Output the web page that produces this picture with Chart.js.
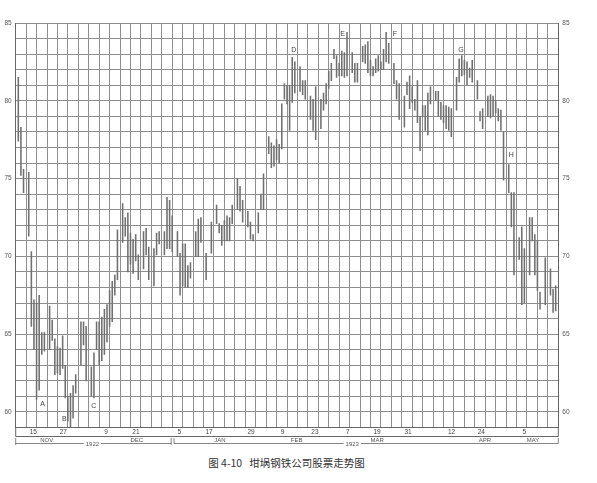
<!DOCTYPE html>
<html>
<head>
<meta charset="utf-8">
<script src="https://cdn.jsdelivr.net/npm/chart.js@4.4.1/dist/chart.umd.min.js"></script>
<style>
  html, body { margin:0; background:#fff; }
  #wrap { position:relative; width:597px; height:483px; }
  .caption { position:absolute; left:0; top:455px; width:573px; text-align:center;
             font:10.5px "Noto Sans CJK SC", sans-serif; color:#333; }
</style>
</head>
<body>
<div id="wrap">
  <canvas id="c" width="597" height="452"></canvas>
  <div class="caption">图 4-10&nbsp;&nbsp;&nbsp;坩埚钢铁公司股票走势图</div>
</div>
<script>
// trading-day slot (4 per grid column), daily high and low
const days  = [1,2,3,5,6,7,8,9,10,11,13,14,15,16,17,18,19,20,21,22,23,25,26,27,29,30,
  31,32,33,34,35,36,37,38,39,41,42,43,44,45,46,47,49,50,51,53,54,55,57,58,59,60,
  62,63,64,65,66,67,69,70,71,73,75,77,78,79,80,81,82,83,85,86,87,89,90,91,93,94,95,
  97,98,99,100,101,102,103,104,105,106,107,109,110,111,113,114,115,117,118,119,120,
  121,122,123,124,125,126,127,129,130,131,133,134,135,136,137,138,139,140,141,142,143,
  145,146,147,149,150,151,152,153,154,155,156,157,158,159,161,162,163,164,165,166,167,
  169,170,171,172,173,174,175,177,178,179,181,182,183,184,185,186,187,189,190,191,
  193,194,195,197,198,199,200,201,203,205,206,207];
const highs = [81.5,78.3,75.6,75.4,70.3,67.2,67.0,67.5,65.1,65.1,66.8,65.9,64.7,64.2,64.1,64.9,63.0,61.0,61.2,61.7,62.4,65.8,65.8,65.5,62.9,63.8,
  65.8,65.8,66.1,66.6,66.9,67.8,68.4,68.8,71.7,73.4,72.5,72.8,71.5,71.1,71.4,70.1,71.6,71.8,70.6,70.5,71.5,71.6,71.6,73.8,73.6,72.6,
  71.6,70.2,70.8,70.8,69.4,69.6,71.6,72.4,72.5,70.2,72.2,73.3,72.1,72.0,72.3,72.6,72.5,73.3,75.0,74.5,73.6,72.9,72.2,71.4,72.8,74.0,75.3,
  77.7,77.3,77.1,77.5,77.2,79.8,81.1,81.0,81.0,82.8,82.5,82.2,81.3,81.3,80.3,80.1,80.9,80.1,80.5,81.1,81.9,
  82.4,83.3,82.9,82.4,83.2,83.1,84.4,83.1,82.4,82.4,83.5,83.6,83.8,82.6,82.2,82.7,82.9,82.5,83.3,84.4,83.7,
  82.4,81.3,81.1,80.3,81.2,81.6,80.9,80.1,81.3,79.0,79.7,79.7,80.5,80.9,80.6,80.6,79.9,79.7,79.7,79.6,79.5,
  81.5,82.7,82.9,82.6,82.5,82.1,82.6,81.3,79.3,79.5,80.3,80.4,80.3,80.0,79.5,79.4,78.0,75.9,74.1,74.1,
  71.2,71.9,70.5,72.5,72.5,71.4,71.0,67.7,69.9,69.2,67.9,68.1];
const lows  = [77.4,75.2,74.1,71.3,65.5,64.0,60.8,61.4,63.7,63.9,64.0,64.6,62.4,62.5,62.4,62.8,60.9,59.4,59.05,59.6,61.2,63.0,64.3,62.0,61.05,60.9,
  64.0,63.0,63.3,63.7,64.5,65.5,65.8,67.5,68.5,70.9,71.3,69.0,69.5,68.9,69.7,68.5,69.2,70.1,68.5,68.1,70.1,70.8,70.1,70.5,70.5,70.3,
  70.0,67.5,68.1,68.0,68.0,68.6,70.0,70.0,70.9,68.5,70.2,72.1,71.5,70.7,71.0,71.0,71.0,72.1,73.0,72.9,72.2,71.9,71.1,71.0,71.5,73.0,73.0,
  76.6,75.7,75.8,76.2,76.0,76.9,80.1,79.8,78.1,79.9,80.5,80.6,80.4,80.1,78.8,78.1,77.5,78.2,79.4,79.8,80.8,
  81.3,82.7,81.5,81.6,81.6,81.5,81.6,81.8,81.2,81.2,82.5,82.4,81.8,81.6,81.6,81.8,81.9,82.0,82.0,82.5,82.4,
  81.1,80.1,78.8,78.3,80.4,79.5,79.9,79.4,78.6,76.8,79.0,78.1,77.8,79.8,80.0,79.0,78.8,78.6,78.2,78.1,77.7,
  79.4,81.2,81.6,81.7,81.0,81.5,81.2,80.1,78.7,78.2,79.0,78.9,79.0,79.2,78.7,78.1,74.9,74.1,71.9,68.8,
  69.8,66.9,67.0,68.8,71.0,68.8,67.8,66.6,66.9,67.5,66.4,66.5];

// date row and month row
const dayTickPos    = [6.75,18.25,34.6,46.1,62.7,74.1,90.2,102.3,114.7,127.3,138.5,150.4,167.1,178.5,195];
const dayTickLabels = ["15","27","9","21","5","17","29","9","23","7","19","31","12","24","5"];
const monthNames = ["NOV","DEC","JAN","FEB","MAR","APR","MAY"];
const monthPos   = [11.9,46.4,78.3,107.7,138.6,179.9,198.3];
const yearNames  = ["1922","1923"];
const yearPos    = [29.4,129.0];
const yearBreak  = [59.6,60.7];

// letter marks A–H
const noteLabels = ["A","B","C","D","E","F","G","H"];
const noteDays   = [10.35,18.6,29.9,106.6,125.3,145.4,170.7,190.0];
const noteValues = [60.5,59.55,60.4,83.26,84.27,84.27,83.26,76.54];

const GRID = "#8e8e8e";
const INK  = "#555";
Chart.defaults.font.family = "'Liberation Sans', Arial, sans-serif";

const frame = {
  id: "frame",
  afterDraw(chart) {
    const { ctx, chartArea:a, scales:{ x, y } } = chart;
    const px = v => x.getPixelForValue(v);
    ctx.save();
    ctx.fillStyle = "#444"; ctx.textAlign = "center"; ctx.textBaseline = "middle";
    ctx.font = "7px 'Liberation Sans', Arial, sans-serif";
    noteLabels.forEach((t,i) => ctx.fillText(t, px(noteDays[i]), y.getPixelForValue(noteValues[i])));

    // box round the date numbers
    const rowB = Math.round(a.bottom + 8.5) + 0.5;
    ctx.strokeStyle = "#666"; ctx.lineWidth = 1;
    ctx.beginPath();
    ctx.moveTo(a.left, a.bottom); ctx.lineTo(a.left, rowB);
    ctx.lineTo(a.right, rowB); ctx.lineTo(a.right, a.bottom);
    ctx.stroke();

    // month row with year brackets
    const lineY = Math.round(a.bottom + 15.5) + 0.5, tickTop = a.bottom + 10.5;
    ctx.font = "6px 'Liberation Sans', Arial, sans-serif";
    ctx.fillStyle = "#555"; ctx.lineWidth = 0.8;
    const spans = [[a.left, px(yearBreak[0])], [px(yearBreak[1]), a.right]];
    spans.forEach(([from, to], i) => {
      const gx = px(yearPos[i]), w = ctx.measureText(yearNames[i]).width / 2 + 2;
      ctx.beginPath();
      ctx.moveTo(from, lineY); ctx.lineTo(gx - w, lineY);
      ctx.moveTo(gx + w, lineY); ctx.lineTo(to, lineY);
      ctx.moveTo(from, tickTop); ctx.lineTo(from, lineY + (i === 1 ? 0 : 1.5));
      ctx.moveTo(to, tickTop); ctx.lineTo(to, lineY + (i === 0 ? 1.5 : 0));
      ctx.stroke();
      ctx.fillText(yearNames[i], gx, lineY + 0.5);
    });
    monthNames.forEach((m,i) => ctx.fillText(m, px(monthPos[i]), lineY - 3.6));
    ctx.restore();
  }
};

const yTicks = { stepSize:1, autoSkip:false, padding:4, color:INK, font:{ size:6.5 },
                 callback: v => v % 5 === 0 ? v : "" };

new Chart(document.getElementById("c"), {
  type: "bar",
  data: {
    datasets: [{
      data: days.map((d,i) => ({ x:d, y:[lows[i], highs[i]] })),
      backgroundColor: "#707070", barThickness: 0.9, grouped: false,
    }],
  },
  options: {
    responsive:false, animation:false,
    layout:{ padding:{ top:23, bottom:16, left:0, right:0 } },
    plugins:{ legend:{ display:false }, tooltip:{ enabled:false } },
    scales:{
      x:{ type:"linear", min:0, max:208, offset:false,
          grid:{ color:GRID, drawTicks:false, offset:false }, border:{ color:"#666" },
          ticks:{ display:false, stepSize:4, autoSkip:false, maxTicksLimit:100 },
          afterFit: s => { s.height = 0; } },
      xd:{ type:"linear", position:"bottom", min:0, max:208, offset:false,
           grid:{ display:false, drawTicks:false }, border:{ display:false },
           ticks:{ autoSkip:false, maxRotation:0, padding:1, color:"#444", font:{ size:6.5 },
                   callback:(v,i) => dayTickLabels[i] },
           afterBuildTicks: s => { s.ticks = dayTickPos.map(v => ({ value:v })); },
           afterFit: s => { s.height = 8.5; } },
      y:{ min:59, max:85, grid:{ color:GRID, drawTicks:false }, border:{ color:"#666" },
          ticks:yTicks, afterFit: s => { s.width = 15.7; } },
      y2:{ position:"right", min:59, max:85, grid:{ display:false, drawTicks:false }, border:{ color:"#666" },
           ticks:yTicks, afterFit: s => { s.width = 38.7; } },
    },
  },
  plugins:[frame],
});
</script>
</body>
</html>
